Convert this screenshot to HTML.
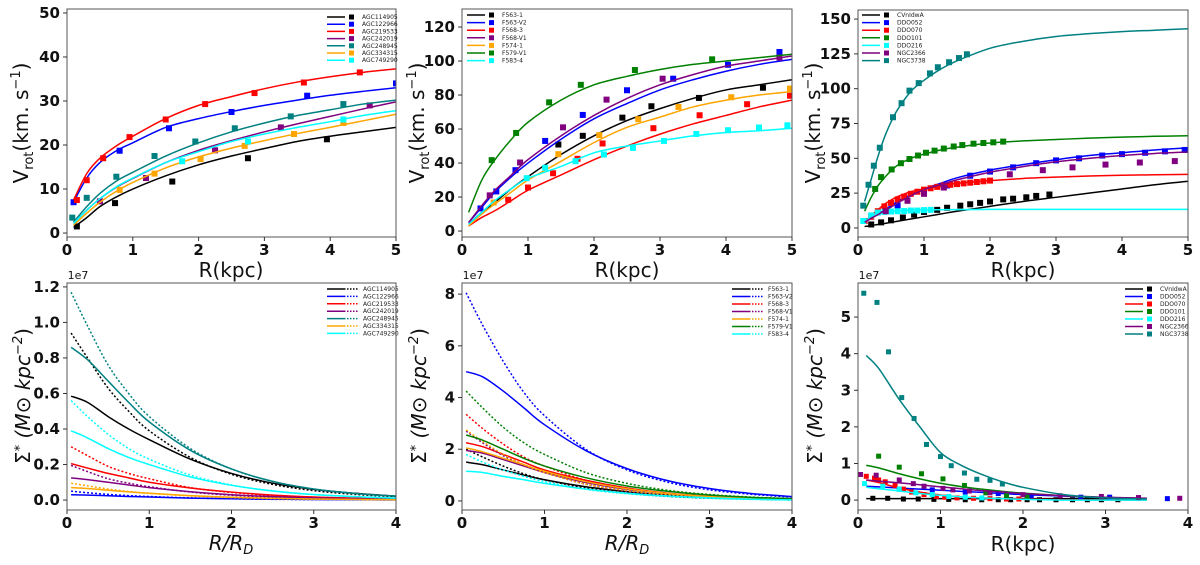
<!DOCTYPE html>
<html><head><meta charset="utf-8"><style>
body{margin:0;background:#fff;}
svg{display:block;font-family:"DejaVu Sans","Liberation Sans",sans-serif;}
</style></head><body>
<svg id="fig" width="1200" height="565" viewBox="0 0 1200 565" xmlns="http://www.w3.org/2000/svg"></svg>
<script>
// ---------- DATA ----------
// Top-left (AGC)
const tlNames = ["AGC114905","AGC122966","AGC219533","AGC242019","AGC248945","AGC334315","AGC749290"];
const tlColors = ["#000000","#0000ff","#ff0000","#800080","#008080","#ffa500","#00ffff"];
const tlGrid = [0.1,0.3,0.5,0.75,1,1.5,2,2.5,3,3.5,4,4.5,5];
const tlCurves = [
 [1.3,3.5,6,8.2,10,13,15.5,17.5,19.2,20.8,22,23,24],
 [7,12.5,16,18.7,20.5,24,26,27.6,29,30.2,31.3,32.2,33],
 [7.5,13.5,17,19.8,22,26,29,31,32.8,34.3,35.5,36.5,37.3],
 [2.2,5.2,7.8,10.4,12.4,16,18.8,21,23,24.8,26.5,28.2,29.8],
 [2.5,6,9,11.8,13.8,17.5,20.5,23,25,26.7,28,29.3,30.2],
 [1.8,4.5,7,9.5,11.5,14.8,17.3,19.3,21,22.6,24,25.5,27],
 [2.2,5.2,7.8,10.5,12.5,16,18.5,20.8,22.5,24,25.3,26.7,27.8]];
const tlPtsR = [
 [0.15,0.73,1.6,2.75,3.95],
 [0.1,0.8,1.55,2.5,3.65,5],
 [0.15,0.3,0.55,0.95,1.5,2.1,2.85,3.6,4.45],
 [0.5,1.2,2.25,3.25,4.6],
 [0.08,0.3,0.75,1.33,1.95,2.55,3.4,4.2],
 [0.8,1.33,2.03,2.7,3.45,4.2],
 [1.75,2.75,4.2]];
const tlPtsV = [
 [1.5,6.8,11.7,17,21.3],
 [7,18.7,23.8,27.5,31.2,34],
 [7.5,12,17,21.8,25.8,29.3,31.8,34.2,36.5],
 [7.2,12.5,18.8,24,29],
 [3.5,8,12.8,17.5,20.8,23.8,26.5,29.3],
 [9.8,13.5,16.8,19.8,22.5,25],
 [16.3,20.8,25.8]];
// Top-middle (LSB)
const tmNames = ["F563-1","F563-V2","F568-3","F568-V1","F574-1","F579-V1","F583-4"];
const tmColors = ["#000000","#0000ff","#ff0000","#800080","#ffa500","#008000","#00ffff"];
const tmGrid = [0.1,0.3,0.5,0.75,1,1.5,2,2.5,3,3.5,4,4.5,5];
const tmCurves = [
 [4,11,17,25,32,45,56,65,72,78,83,86,89],
 [5,14,23,32,40,54,66,75,83,89,94,98,101],
 [3,8,12,18,24,33,42,50,57,63,68,73,77],
 [5,15,24,33,42,56,68,78,86,92,97,100,103],
 [3,10,16,23,30,41,52,61,67,73,77,80,82],
 [11,30,42,54,64,77,86,91,95,98,100,102,104],
 [4,11,18,25,31,38,46,50,53,56,58,59,60.5]];
const tmPtsR = [
 [1.46,1.83,2.43,2.87,3.59,4.56],
 [0.28,0.52,0.81,1.26,1.83,2.5,3.2,4.03,4.81],
 [0.7,1.0,1.38,1.75,2.13,2.9,3.6,4.32,4.97],
 [0.42,0.88,1.53,2.19,3.04,4.81],
 [0.48,1.46,2.08,2.67,3.28,4.08,4.97],
 [0.45,0.82,1.32,1.8,2.62,3.79],
 [0.98,1.26,1.72,2.15,2.59,3.06,3.55,4.03,4.5,4.93]];
const tmPtsV = [
 [50.9,56,66.7,73.4,78.3,84.3],
 [13.3,23.3,35.8,53,68.3,82.8,89.6,97.8,105.3],
 [18.4,25.6,34,42.5,51.5,60.5,68.1,74.6,79.6],
 [21,40.3,61,77.3,89.6,102],
 [16.8,45.2,56.4,65.8,73,78.7,83.8],
 [41.7,57.7,75.7,86,94.7,101],
 [31.1,37.2,41.1,45,48.9,53,57.1,59.3,60.9,62.2]];
// Top-right (dwarfs)
const trNames = ["CVnIdwA","DDO052","DDO070","DDO101","DDO216","NGC2366","NGC3738"];
const trColors = ["#000000","#0000ff","#ff0000","#008000","#00ffff","#800080","#008080"];
const trGrid = [0.1,0.2,0.3,0.4,0.5,0.6,0.8,1,1.25,1.5,2,2.5,3,3.5,4,4.5,5];
const trCurves = [
 [1,1.7,2.5,3.2,4,4.8,6.4,8,10,12,15.5,19,22,25,28,31,33.5],
 [4,7,10,13,16,19,24,28,32,36,41.5,45.5,49,52,54,56,57.5],
 [4,9,13,17,20,22.5,26,28,30,32,34,35.5,36.5,37.3,37.8,38.2,38.5],
 [12,22,30,36,41,45,50,53,56,58,61,62.5,63.5,64.5,65.2,65.8,66.2],
 [5,8,10,11,11.8,12.3,12.8,13,13.1,13.2,13.3,13.3,13.3,13.3,13.3,13.3,13.3],
 [4,7,9.5,12.5,15,18,23,27.5,31,34.5,40,44,47.5,50,52,53.5,54.5],
 [19,35,51,65,76,85,98,106,114,120,129,134,137.5,139.5,141,142,143]];
const trPtsR = [
 [0.2,0.35,0.5,0.68,0.85,1.0,1.2,1.35,1.55,1.7,1.85,2.0,2.2,2.35,2.55,2.7,2.9],
 [0.6,1.0,1.35,1.7,2.0,2.35,2.7,3.0,3.35,3.7,4.0,4.35,4.65,4.95],
 [0.1,0.2,0.3,0.4,0.5,0.6,0.7,0.8,0.9,1.0,1.1,1.2,1.3,1.4,1.5,1.6,1.7,1.8,1.9,2.0],
 [0.26,0.35,0.51,0.65,0.78,0.91,1.03,1.16,1.3,1.45,1.58,1.75,1.9,2.05,2.2],
 [0.08,0.2,0.3,0.4,0.5,0.6,0.7,0.8,0.9,1.0,1.1],
 [0.42,0.75,1.0,1.3,2.3,2.8,3.25,3.75,4.27,4.8],
 [0.08,0.16,0.24,0.33,0.53,0.66,0.78,0.92,1.09,1.21,1.38,1.53,1.65]];
const trPtsV = [
 [2.5,4,5.5,7.5,9.5,11.5,13,14.5,16,17,18,19,20.5,21,22,23,24],
 [16,25,30.5,37.5,40.5,43.5,46.5,48.5,50,52,53,54,55,56],
 [5,8,12,15.5,18,20.5,22.5,24.5,26,27.5,28.5,29.5,30.5,31,31.5,32,32.5,33,33.5,34],
 [28,36.5,42,46.5,49.5,52,54,55.5,57,58.5,59.5,60.5,61,61.5,62],
 [5,9,11,11.5,11.8,12,12.2,12.5,12.5,12.8,13],
 [12,19.5,24.5,29,38.5,41.5,43.5,45.5,47,48],
 [16,31,44.7,57.6,79.5,89.6,98.6,104,111,115.4,119,122,124.7]];
// Bottom-left (AGC surface density, 1e7)
const blGrid = [0.05,0.25,0.5,0.75,1,1.5,2,2.5,3,3.5,4];
const blSolid = [
 [0.585,0.55,0.47,0.4,0.34,0.23,0.15,0.095,0.06,0.038,0.022],
 [0.03,0.028,0.024,0.02,0.017,0.011,0.007,0.005,0.003,0.002,0.001],
 [0.205,0.18,0.15,0.125,0.1,0.068,0.045,0.028,0.017,0.011,0.007],
 [0.125,0.115,0.1,0.085,0.07,0.047,0.03,0.019,0.012,0.008,0.005],
 [0.86,0.79,0.67,0.55,0.44,0.28,0.175,0.105,0.062,0.037,0.022],
 [0.07,0.065,0.055,0.046,0.038,0.025,0.016,0.01,0.006,0.004,0.002],
 [0.39,0.35,0.29,0.24,0.2,0.13,0.083,0.051,0.031,0.019,0.011]];
const blDotted = [
 [0.94,0.8,0.63,0.5,0.39,0.24,0.145,0.088,0.053,0.032,0.019],
 [0.05,0.041,0.032,0.025,0.02,0.012,0.007,0.004,0.003,0.002,0.001],
 [0.3,0.25,0.19,0.15,0.12,0.07,0.043,0.026,0.016,0.01,0.006],
 [0.195,0.16,0.12,0.095,0.075,0.045,0.027,0.016,0.01,0.006,0.004],
 [1.17,0.98,0.76,0.6,0.47,0.29,0.175,0.105,0.062,0.037,0.022],
 [0.095,0.08,0.062,0.048,0.038,0.023,0.014,0.008,0.005,0.003,0.002],
 [0.56,0.47,0.37,0.29,0.23,0.14,0.085,0.052,0.031,0.019,0.011]];
// Bottom-middle (LSB surface density, 1e7)
const bmGrid = [0.05,0.25,0.5,0.75,1,1.5,2,2.5,3,3.5,4];
const bmColors = ["#000000","#0000ff","#ff0000","#800080","#ffa500","#008000","#00ffff"];
const bmSolid = [
 [1.5,1.4,1.2,1.0,0.82,0.55,0.36,0.22,0.13,0.08,0.05],
 [5.0,4.8,4.25,3.6,2.95,1.95,1.25,0.78,0.48,0.29,0.17],
 [2.25,2.1,1.8,1.5,1.2,0.8,0.5,0.3,0.18,0.1,0.06],
 [1.95,1.85,1.6,1.35,1.1,0.72,0.45,0.28,0.17,0.1,0.06],
 [2.05,1.9,1.65,1.4,1.15,0.75,0.47,0.29,0.17,0.1,0.06],
 [2.55,2.35,2.0,1.65,1.35,0.9,0.58,0.37,0.23,0.14,0.09],
 [1.15,1.1,0.95,0.82,0.68,0.46,0.3,0.19,0.12,0.07,0.04]];
const bmDotted = [
 [2.0,1.7,1.35,1.05,0.82,0.5,0.3,0.18,0.11,0.07,0.04],
 [8.05,6.8,5.4,4.2,3.3,2.0,1.2,0.72,0.43,0.26,0.15],
 [3.35,2.8,2.2,1.7,1.35,0.8,0.48,0.29,0.17,0.1,0.06],
 [2.7,2.25,1.75,1.4,1.1,0.65,0.38,0.22,0.13,0.08,0.05],
 [2.75,2.3,1.8,1.4,1.1,0.65,0.4,0.24,0.14,0.09,0.05],
 [4.25,3.6,2.85,2.25,1.8,1.1,0.68,0.41,0.25,0.15,0.09],
 [1.8,1.5,1.2,0.95,0.75,0.45,0.28,0.17,0.1,0.06,0.04]];
// Bottom-right (dwarf surface density, 1e7)
const brGrid = [0.1,0.25,0.5,0.75,1,1.25,1.5,1.75,2,2.5,3,3.5];
const brCurves = [
 [0.04,0.04,0.04,0.04,0.04,0.04,0.04,0.04,0.04,0.04,0.04,0.04],
 [0.38,0.36,0.33,0.3,0.27,0.24,0.21,0.18,0.15,0.11,0.07,0.05],
 [0.55,0.48,0.33,0.22,0.14,0.09,0.06,0.04,0.03,0.01,0.0,0.0],
 [0.95,0.88,0.72,0.58,0.46,0.37,0.3,0.24,0.19,0.12,0.07,0.05],
 [0.35,0.31,0.25,0.18,0.13,0.09,0.06,0.04,0.02,0.0,0.0,0.0],
 [0.55,0.52,0.47,0.42,0.36,0.31,0.26,0.22,0.18,0.12,0.08,0.05],
 [3.95,3.6,2.75,2.0,1.3,0.95,0.7,0.5,0.35,0.15,0.06,0.03]];
const brPtsR = [
 [0.18,0.36,0.55,0.73,0.92,1.1,1.3,1.5,1.7,1.85,2.05,2.2,2.4,2.6,2.78,2.95,3.15],
 [0.5,0.9,1.3,1.7,2.1,2.7,3.05,3.75],
 [0.1,0.2,0.25,0.33,0.45,0.55,0.65,0.8,0.95,1.05,1.2,1.4,1.6,1.8,1.95],
 [0.25,0.5,0.77,1.03,1.29,1.55,1.8,2.05],
 [0.08,0.3,0.5,0.7,0.9,1.1,1.3,1.5],
 [0.03,0.22,0.5,0.67,0.8,1.03,1.15,1.35,1.6,2.0,2.45,2.95,3.4,3.9],
 [0.07,0.23,0.37,0.53,0.68,0.83,1.0,1.13,1.29,1.44,1.6,1.75]];
const brPtsS = [
 [0.05,0.05,0.03,0.03,0.02,0.02,0.01,0.01,0.01,0.01,0.01,0.01,0.01,0.01,0.01,0.01,0.01],
 [0.3,0.28,0.22,0.18,0.12,0.08,0.08,0.04],
 [0.65,0.6,0.55,0.5,0.4,0.3,0.22,0.15,0.1,0.08,0.06,0.05,0.04,0.03,0.03],
 [1.2,0.9,0.72,0.58,0.4,0.2,0.12,0.08],
 [0.45,0.38,0.3,0.2,0.15,0.1,0.08,0.06],
 [0.7,0.68,0.55,0.45,0.38,0.32,0.28,0.25,0.2,0.15,0.12,0.1,0.07,0.05],
 [5.65,5.4,4.05,2.8,2.23,1.52,1.19,0.94,0.74,0.57,0.54,0.44]];

// ---------- DRAWING ----------
const NS = "http://www.w3.org/2000/svg";
const svg = document.getElementById("fig");
function mk(tag, attrs, parent) {
  const e = document.createElementNS(NS, tag);
  for (const k in attrs) e.setAttribute(k, attrs[k]);
  (parent || svg).appendChild(e);
  return e;
}
function smoothPath(pts) {
  let d = "M" + pts[0][0].toFixed(2) + "," + pts[0][1].toFixed(2);
  for (let i = 0; i < pts.length - 1; i++) {
    const p0 = pts[Math.max(0, i - 1)], p1 = pts[i], p2 = pts[i + 1], p3 = pts[Math.min(pts.length - 1, i + 2)];
    const c1x = p1[0] + (p2[0] - p0[0]) / 6, c1y = p1[1] + (p2[1] - p0[1]) / 6;
    const c2x = p2[0] - (p3[0] - p1[0]) / 6, c2y = p2[1] - (p3[1] - p1[1]) / 6;
    d += " C" + c1x.toFixed(2) + "," + c1y.toFixed(2) + " " + c2x.toFixed(2) + "," + c2y.toFixed(2) + " " + p2[0].toFixed(2) + "," + p2[1].toFixed(2);
  }
  return d;
}
function makePanel(id, px0, px1, py0, py1, xmin, xmax, ymin, ymax, xticks, yticks, fmt) {
  const g = mk("g", {});
  
  
  const sx = v => px0 + (v - xmin) / (xmax - xmin) * (px1 - px0);
  const sy = v => py1 - (v - ymin) / (ymax - ymin) * (py1 - py0);
  const clip = mk("clipPath", { id: id + "-clip" }, g);
  mk("rect", { x: px0, y: py0, width: px1 - px0, height: py1 - py0 }, clip);
  const plot = mk("g", { "clip-path": "url(#" + id + "-clip)" }, g);
  
  
  const frame = mk("rect", { x: px0, y: py0, width: px1 - px0, height: py1 - py0, fill: "none", stroke: "#555", "stroke-width": 1 }, g);
  
  
  xticks.forEach(t => {
    const x = sx(t);
    mk("line", { x1: x, y1: py1, x2: x, y2: py1 + 4, stroke: "#333" }, g);
    const tx = mk("text", { x: x, y: py1 + 18, "font-size": 15, "font-weight": "bold", "text-anchor": "middle", fill: "#111" }, g);
    tx.textContent = String(t);
    
    
  });
  yticks.forEach(t => {
    const y = sy(t);
    mk("line", { x1: px0 - 4, y1: y, x2: px0, y2: y, stroke: "#333" }, g);
    const ty = mk("text", { x: px0 - 7, y: y + 5, "font-size": 15, "font-weight": "bold", "text-anchor": "end", fill: "#111" }, g);
    ty.textContent = fmt(t);
    
    
  });
  return { sx, sy, plot, g };
}
function drawCurve(P, grid, vals, color, dash, name) {
  const pts = grid.map((x, i) => [P.sx(x), P.sy(vals[i])]);
  const p = mk("path", { d: smoothPath(pts), fill: "none", stroke: color, "stroke-width": 1.5 }, P.plot);
  if (dash) p.setAttribute("stroke-dasharray", dash);
  
  
}
function drawPoints(P, rs, vs, color, name, size) {
  const s2 = size || 6;
  rs.forEach((r, i) => {
    const s = mk("rect", { x: P.sx(r) - s2 / 2, y: P.sy(vs[i]) - s2 / 2, width: s2, height: s2, fill: color }, P.plot);
    
    
  });
}
function legend(x, y0, gap, names, cols, style) {
  const g = mk("g", {});
  
  
  names.forEach((n, i) => {
    const y = y0 + i * gap;
    const e = mk("g", {}, g);
    
    
    if (style === "dual") {
      mk("line", { x1: x, y1: y, x2: x + 17, y2: y, stroke: cols[i], "stroke-width": 1.5 }, e);
      mk("line", { x1: x + 17, y1: y, x2: x + 32, y2: y, stroke: cols[i], "stroke-width": 1.5, "stroke-dasharray": "1.5,1.5" }, e);
      const t = mk("text", { x: x + 36, y: y + 2, "font-size": 6, fill: "#222" }, e); t.textContent = n;
    } else {
      mk("line", { x1: x, y1: y, x2: x + 18, y2: y, stroke: cols[i], "stroke-width": 1.5 }, e);
      mk("rect", { x: x + 22, y: y - 2.5, width: 5, height: 5, fill: cols[i] }, e);
      const t = mk("text", { x: x + 35, y: y + 2, "font-size": 6, fill: "#222" }, e); t.textContent = n;
    }
  });
}
function text(x, y, str, size, name, extra) {
  const t = mk("text", Object.assign({ x: x, y: y, "font-size": size, "text-anchor": "middle", fill: "#111" }, extra || {}));
  t.innerHTML = str;
  
  
  return t;
}
const f0 = v => String(v), f1 = v => v.toFixed(1);
const X5 = [0,1,2,3,4,5], X4 = [0,1,2,3,4];

// Top-left
const TL = makePanel("agc-rotation-panel", 67, 396, 9, 237, 0, 5, -0.9, 50.9, X5, [0,10,20,30,40,50], f0);
tlNames.forEach((n, i) => { drawCurve(TL, tlGrid, tlCurves[i], tlColors[i], null, "model-curve-" + n); drawPoints(TL, tlPtsR[i], tlPtsV[i], tlColors[i], "data-point-" + n); });
legend(327, 17, 7.2, tlNames, tlColors, "pt");
// Top-middle
const TM = makePanel("lsb-rotation-panel", 462, 792, 9, 237, 0, 5, -3.5, 130.6, X5, [0,20,40,60,80,100,120], f0);
tmNames.forEach((n, i) => { drawCurve(TM, tmGrid, tmCurves[i], tmColors[i], null, "model-curve-" + n); drawPoints(TM, tmPtsR[i], tmPtsV[i], tmColors[i], "data-point-" + n); });
legend(467, 15, 7.6, tmNames, tmColors, "pt");
// Top-right
const TR = makePanel("dwarf-rotation-panel", 858, 1188, 10, 237, 0, 5, -6.5, 156.5, X5, [0,25,50,75,100,125,150], f0);
trNames.forEach((n, i) => { drawCurve(TR, trGrid, trCurves[i], trColors[i], null, "model-curve-" + n); drawPoints(TR, trPtsR[i], trPtsV[i], trColors[i], "data-point-" + n); });
legend(862, 15, 7.6, trNames, trColors, "pt");
// Bottom-left
const BL = makePanel("agc-density-panel", 67, 396, 283, 510, 0, 4, -0.056, 1.222, X4, [0,0.2,0.4,0.6,0.8,1.0,1.2], f1);
tlNames.forEach((n, i) => { drawCurve(BL, blGrid, blSolid[i], tlColors[i], null, "solid-density-" + n); drawCurve(BL, blGrid, blDotted[i], tlColors[i], "2,2", "dotted-density-" + n); });
legend(327, 289, 7.4, tlNames, tlColors, "dual");
// Bottom-middle
const BM = makePanel("lsb-density-panel", 462, 792, 283, 510, 0, 4, -0.35, 8.43, X4, [0,2,4,6,8], f0);
tmNames.forEach((n, i) => { drawCurve(BM, bmGrid, bmSolid[i], bmColors[i], null, "solid-density-" + n); drawCurve(BM, bmGrid, bmDotted[i], bmColors[i], "2,2", "dotted-density-" + n); });
legend(732, 289, 7.5, tmNames, bmColors, "dual");
// Bottom-right
const BR = makePanel("dwarf-density-panel", 858, 1188, 283, 510, 0, 4, -0.27, 5.93, X4, [0,1,2,3,4,5], f0);
trNames.forEach((n, i) => { drawCurve(BR, brGrid, brCurves[i], trColors[i], null, "density-curve-" + n); drawPoints(BR, brPtsR[i], brPtsS[i], trColors[i], "density-point-" + n, 5); });
legend(1125, 289, 7.5, trNames, trColors, "pt");

// Axis labels
[231, 627, 1023].forEach(cx => text(cx, 277, "R(kpc)", 20, "x-axis-title"));
text(231, 550, "<tspan font-style='italic'>R/R</tspan><tspan font-style='italic' font-size='13' dy='4'>D</tspan>", 20, "x-axis-title");
text(627, 550, "<tspan font-style='italic'>R/R</tspan><tspan font-style='italic' font-size='13' dy='4'>D</tspan>", 20, "x-axis-title");
text(1023, 551, "R(kpc)", 20, "x-axis-title");
[[28, 123], [424, 123], [820, 123]].forEach(p => {
  const t = text(p[0], p[1], "V<tspan font-size='13' dy='5'>rot</tspan><tspan dy='-5'>(km. s</tspan><tspan font-size='13' dy='-8'>−1</tspan><tspan dy='8'>)</tspan>", 20, "y-axis-title");
  t.setAttribute("transform", "rotate(-90 " + p[0] + " " + p[1] + ")");
});
[[30, 396], [426, 396], [822, 396]].forEach(p => {
  const t = text(p[0], p[1], "Σ<tspan font-size='13' dy='-6'>*</tspan><tspan dy='6' font-style='italic'> (M</tspan><tspan>⊙ </tspan><tspan font-style='italic'>kpc</tspan><tspan font-size='13' dy='-8' font-style='italic'>−2</tspan><tspan dy='8'>)</tspan>", 20, "y-axis-title");
  t.setAttribute("transform", "rotate(-90 " + p[0] + " " + p[1] + ")");
});
[67, 462, 858].forEach(x => text(x + 11, 279, "1e7", 11, "offset-label"));
</script>
</body></html>
